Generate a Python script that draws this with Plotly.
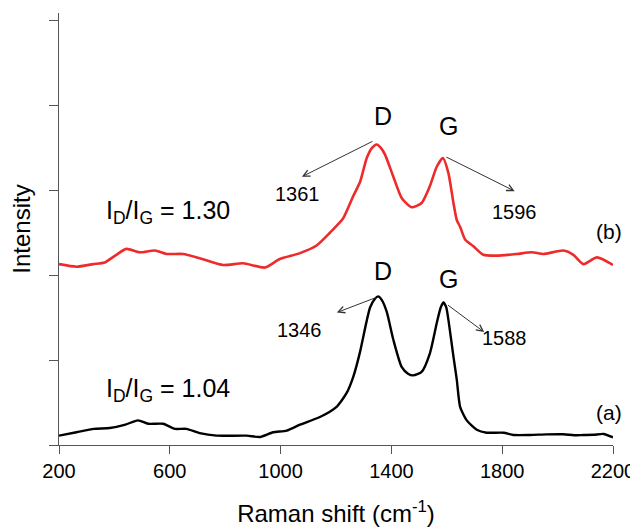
import plotly.graph_objects as go

# ---- data ----
wn_a = [200, 263, 326, 383, 440, 485, 522, 576, 618, 660, 708, 769, 877, 925, 973, 1022,
        1070, 1142, 1202, 1238, 1262, 1287, 1310, 1323, 1340, 1352, 1365, 1383, 1407, 1437,
        1460, 1479, 1509, 1539, 1564, 1578, 1588, 1598, 1606, 1624, 1636, 1648, 1672, 1708,
        1744, 1805, 1841, 1901, 1960, 2021, 2060, 2093, 2130, 2166, 2200]
int_a = [0.11, 0.15, 0.19, 0.20, 0.24, 0.29, 0.25, 0.25, 0.19, 0.19, 0.14, 0.11, 0.11, 0.094, 0.15, 0.17,
         0.24, 0.33, 0.45, 0.61, 0.80, 1.10, 1.45, 1.62, 1.72, 1.75, 1.71, 1.57, 1.24, 0.92,
         0.84, 0.82, 0.86, 1.08, 1.44, 1.62, 1.68, 1.62, 1.47, 1.04, 0.77, 0.45, 0.29, 0.18,
         0.145, 0.145, 0.118, 0.118, 0.125, 0.126, 0.115, 0.118, 0.12, 0.13, 0.09]

wn_b = [200, 263, 323, 365, 407, 443, 492, 546, 588, 648, 708, 793, 865, 943, 997, 1070,
        1130, 1178, 1226, 1262, 1287, 1311, 1330, 1347, 1362, 1377, 1407, 1437, 1473, 1509,
        1539, 1564, 1586, 1606, 1624, 1636, 1648, 1666, 1696, 1732, 1781, 1853, 1907, 1949,
        2021, 2057, 2093, 2142, 2200]
int_b = [2.13, 2.10, 2.13, 2.15, 2.24, 2.31, 2.27, 2.29, 2.25, 2.25, 2.20, 2.12, 2.14, 2.09, 2.19, 2.26,
         2.35, 2.50, 2.67, 2.93, 3.10, 3.38, 3.50, 3.54, 3.50, 3.42, 3.16, 2.91, 2.80, 2.85,
         3.05, 3.28, 3.38, 3.20, 2.85, 2.65, 2.57, 2.42, 2.34, 2.24, 2.23, 2.25, 2.27, 2.25,
         2.29, 2.24, 2.13, 2.21, 2.12]

x_ticks = [200, 600, 1000, 1400, 1800, 2200]
y_ticks = [0, 1, 2, 3, 4, 5]

# peak arrows: start (near peak) -> tip
arrow_start_x = [1337, 1593, 1351, 1599]
arrow_start_y = [3.585, 3.40, 1.745, 1.66]
arrow_tip_x = [1077, 1845, 1203, 1735]
arrow_tip_y = [3.16, 2.99, 1.56, 1.33]

peak_labels = ["1361", "1596", "1346", "1588"]
peak_label_x = [1062, 1846, 1069, 1809]
peak_label_y = [2.96, 2.74, 1.36, 1.26]

band_labels = ["D", "G", "D", "G"]
band_label_x = [1370, 1605, 1370, 1605]
band_label_y = [3.87, 3.76, 2.05, 1.95]

ratio_labels = ["I<sub>D</sub>/I<sub>G</sub> = 1.30", "I<sub>D</sub>/I<sub>G</sub> = 1.04"]
ratio_x = [593, 593]
ratio_y = [2.75, 0.65]

sample_labels = ["(b)", "(a)"]
sample_x = [2186, 2186]
sample_y = [2.51, 0.377]

FONT = "Liberation Sans, Arial, sans-serif"

fig = go.Figure()
fig.add_trace(go.Scatter(x=wn_a, y=int_a, mode="lines",
                         line=dict(color="#000000", width=2.4, shape="spline", smoothing=0.6),
                         showlegend=False, hoverinfo="skip"))
fig.add_trace(go.Scatter(x=wn_b, y=int_b, mode="lines",
                         line=dict(color="#ee2a2a", width=2.6, shape="spline", smoothing=0.6),
                         showlegend=False, hoverinfo="skip"))

for sx, sy, tx, ty in zip(arrow_start_x, arrow_start_y, arrow_tip_x, arrow_tip_y):
    fig.add_annotation(x=tx, y=ty, ax=sx, ay=sy, xref="x", yref="y", axref="x", ayref="y",
                       text="", showarrow=True, arrowhead=5, arrowsize=1.3, arrowwidth=1,
                       arrowcolor="#333333", standoff=0, startstandoff=0)

for t, x, y in zip(peak_labels, peak_label_x, peak_label_y):
    fig.add_annotation(x=x, y=y, text=t, showarrow=False, font=dict(family=FONT, size=20, color="#000"))
for t, x, y in zip(band_labels, band_label_x, band_label_y):
    fig.add_annotation(x=x, y=y, text=t, showarrow=False, font=dict(family=FONT, size=25, color="#000"))
for t, x, y in zip(ratio_labels, ratio_x, ratio_y):
    fig.add_annotation(x=x, y=y, text=t, showarrow=False, font=dict(family=FONT, size=25, color="#000"))
for t, x, y in zip(sample_labels, sample_x, sample_y):
    fig.add_annotation(x=x, y=y, text=t, showarrow=False, font=dict(family=FONT, size=21, color="#000"))

# page body has an 8px default margin: figure is sized to fit the 638x527 window
fig.update_layout(
    width=630, height=519,
    margin=dict(l=51, r=25, t=5, b=82, autoexpand=False),
    paper_bgcolor="white", plot_bgcolor="white",
    font=dict(family=FONT, color="#000"),
    xaxis=dict(range=[200, 2200], tickvals=x_ticks, ticktext=[str(v) for v in x_ticks],
               automargin=True,
               showgrid=False, zeroline=False, showline=True, linecolor="#555", linewidth=1.3,
               ticks="outside", ticklen=8, tickcolor="#555", tickwidth=1.3,
               tickfont=dict(family=FONT, size=20, color="#000"),
               title=dict(text="Raman shift (cm<sup>-1</sup>)", font=dict(family=FONT, size=24, color="#000"),
                          standoff=25)),
    yaxis=dict(range=[0, 5.088], tickvals=y_ticks, showticklabels=False,
               automargin=True,
               showgrid=False, zeroline=False, showline=True, linecolor="#555", linewidth=1.3,
               ticks="outside", ticklen=9, tickcolor="#555", tickwidth=1.3,
               title=dict(text="Intensity", font=dict(family=FONT, size=24, color="#000"), standoff=14)),
)

fig.write_html("out.html")
